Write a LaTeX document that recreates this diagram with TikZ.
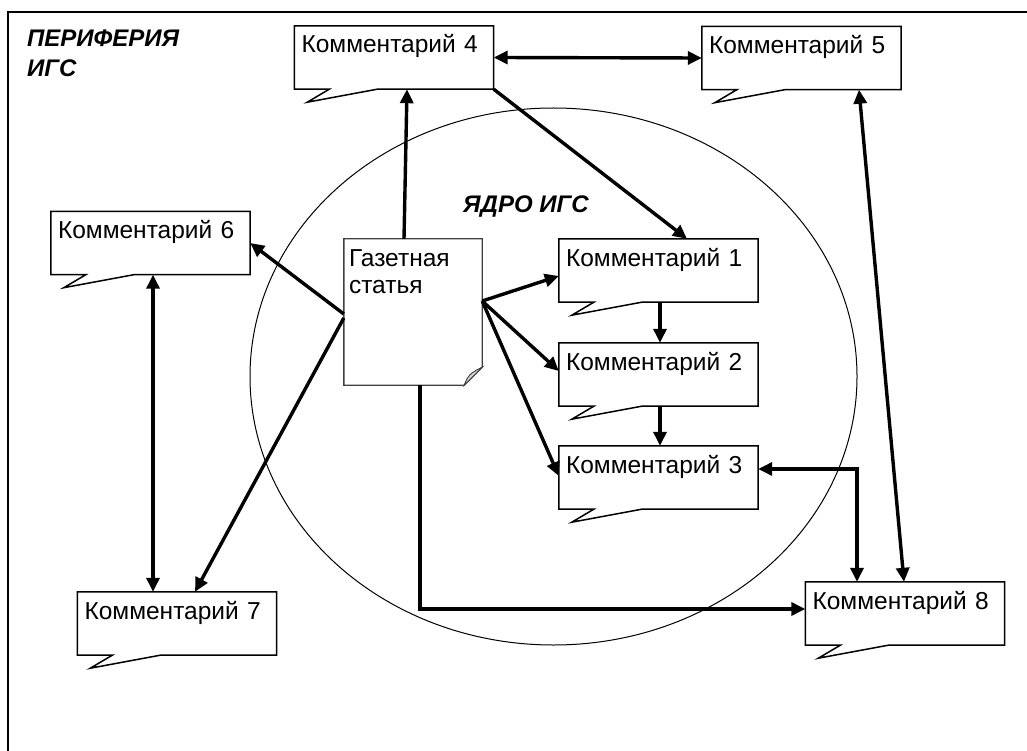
\documentclass[tikz,border=0pt]{standalone}
\usepackage{fontspec}
\setmainfont{Liberation Sans}
\usetikzlibrary{arrows.meta}

\tikzset{
  comment/.style={inner xsep=7pt, inner ysep=0pt, text width=185pt, align=left,
    text height=27pt, text depth=36pt, font=\fontsize{24.5}{28}\selectfont},
  paper/.style={inner xsep=5pt, inner ysep=0pt, text width=128pt, align=left,
    text height=27pt, text depth=119pt, font=\fontsize{24.5}{27.5}\selectfont},
  boxline/.style={line width=1.5pt},
  zone/.style={font=\fontsize{24}{30}\selectfont\bfseries\itshape, inner sep=0pt, align=left},
  link/.style={line width=3.4pt, -{Triangle[length=14pt,width=13pt]}},
  twoway/.style={line width=3.4pt, {Triangle[length=14pt,width=13pt]}-{Triangle[length=14pt,width=13pt]}}
}

\begin{document}
\begin{tikzpicture}[x=1pt,y=-1pt]
  \useasboundingbox (0,0) rectangle (1027,751);
  % frame of the periphery
  \draw[line width=1.2pt] (1027,12) -- (8,12) -- (8,751);
  \node[zone, anchor=north west] (periph) at (27,30) {ПЕРИФЕРИЯ\\ИГС};

  % core
  \draw[line width=1pt] (553.5,376.5) ellipse [x radius=303.5, y radius=268.5];
  \node[zone, anchor=base west] (core) at (463,213) {ЯДРО ИГС};

  % article
  \node[paper] (doc) at (413,312) {Газетная\\статья};
  \draw[line width=1.4pt, black!75] (doc.north west) -- (doc.north east)
    -- ([yshift=18pt]doc.south east) -- ([xshift=-18pt]doc.south east)
    -- (doc.south west) -- cycle;
  \draw[line width=0.9pt, black!75, fill=gray!35] ([yshift=18pt]doc.south east)
    .. controls ([xshift=-8pt,yshift=14pt]doc.south east) and ([xshift=-14pt,yshift=12pt]doc.south east)
    .. ([xshift=-18pt]doc.south east) -- cycle;

  % comments
  \node[comment] (c1) at (658.5,270.5) {Комментарий 1};
  \node[comment] (c2) at (658.5,374.5) {Комментарий 2};
  \node[comment] (c3) at (658.5,477.5) {Комментарий 3};
  \node[comment] (c4) at (394,57.5) {Комментарий 4};
  \node[comment] (c5) at (801.5,58) {Комментарий 5};
  \node[comment] (c6) at (150.5,243) {Комментарий 6};
  \node[comment] (c7) at (177,623.5) {Комментарий 7};
  \node[comment] (c8) at (905,613.5) {Комментарий 8};
  \foreach \n in {c1,c2,c3,c4,c5,c6,c7,c8}
    \draw[boxline] (\n.south west) -- (\n.north west) -- (\n.north east)
      -- (\n.south east) -- ([xshift=83pt]\n.south west) -- ++(-70,13)
      -- ([xshift=35pt]\n.south west) -- cycle;

  % links
  \coordinate (out) at ([yshift=11pt]doc.east);
  \draw[link] ([xshift=-9pt]doc.north) -- ([xshift=13pt]c4.south);
  \draw[twoway] (c4.east) -- (c5.west);
  \draw[link] (c4.south east) -- ([xshift=28.5pt]c1.north);
  \draw[twoway] ([xshift=57.5pt]c5.south) -- ([xshift=-1pt]c8.north);
  \draw[link] ([yshift=-2pt]doc.west) -- (c6.east);
  \draw[link] ([yshift=-6pt]doc.west) -- ([xshift=18pt]c7.north);
  \draw[twoway] ([xshift=2.5pt]c6.south) -- ([xshift=-24pt]c7.north);
  \draw[link] (out) -- ([yshift=-5.5pt]c1.west);
  \draw[link] (out) -- ([yshift=3.5pt]c2.west);
  \draw[link] (out) -- ([yshift=1.5pt]c3.west);
  \draw[link] ([xshift=1.5pt]c1.south) -- ([xshift=1.5pt]c2.north);
  \draw[link] ([xshift=1.5pt]c2.south) -- ([xshift=1.5pt]c3.north);
  \draw[twoway] ([yshift=8.5pt]c3.east) -| ([xshift=-48pt]c8.north);
  \draw[link] ([xshift=7pt]doc.south) |- ([yshift=4.5pt]c8.west);
\end{tikzpicture}
\end{document}
